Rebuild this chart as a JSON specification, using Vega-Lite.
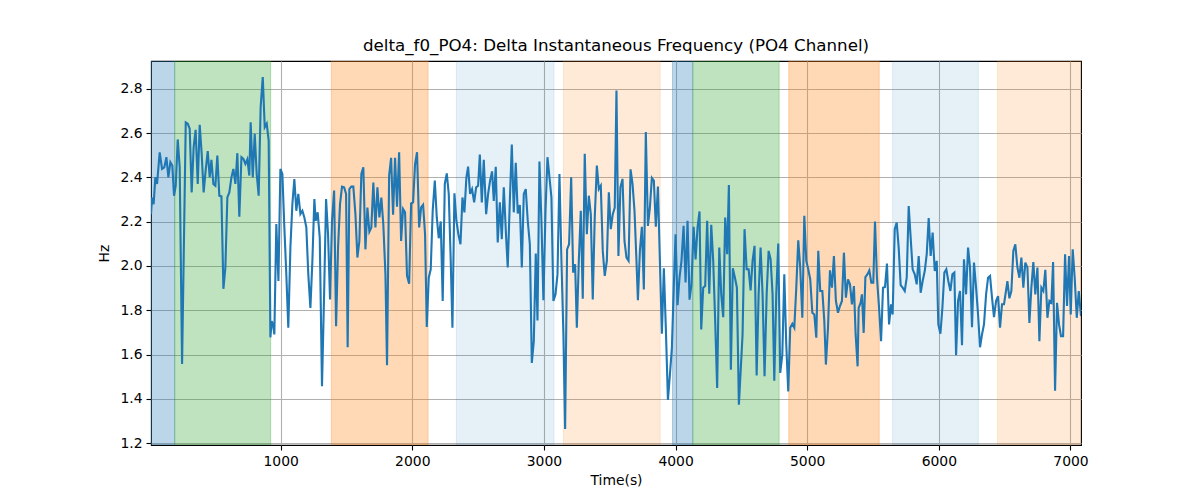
{
  "$schema": "https://vega.github.io/schema/vega-lite/v6.json",
  "width": 930,
  "height": 384,
  "autosize": {"type": "none"},
  "padding": {"left": 151, "top": 61, "right": 119, "bottom": 55},
  "background": "white",
  "title": {
    "text": "delta_f0_PO4: Delta Instantaneous Frequency (PO4 Channel)",
    "fontSize": 16.7,
    "fontWeight": "normal",
    "font": "DejaVu Sans",
    "color": "black",
    "offset": 6
  },
  "config": {
    "font": "DejaVu Sans",
    "view": {"stroke": "black", "strokeWidth": 1.1},
    "axis": {
      "labelFont": "DejaVu Sans",
      "titleFont": "DejaVu Sans",
      "labelFontSize": 13.9,
      "titleFontSize": 13.9,
      "titleFontWeight": "normal",
      "labelColor": "black",
      "titleColor": "black",
      "gridColor": "#b0b0b0",
      "gridWidth": 1.1,
      "tickColor": "black",
      "tickSize": 5,
      "tickWidth": 1.1,
      "labelPadding": 4,
      "domain": false
    }
  },
  "datasets": {
    "spans": [
      {"start": 15, "end": 195, "state": "A"},
      {"start": 195, "end": 924, "state": "B"},
      {"start": 1385, "end": 2120, "state": "C"},
      {"start": 2335, "end": 3077, "state": "D"},
      {"start": 3148, "end": 3883, "state": "E"},
      {"start": 3977, "end": 4131, "state": "A"},
      {"start": 4131, "end": 4787, "state": "B"},
      {"start": 4860, "end": 5547, "state": "C"},
      {"start": 5649, "end": 6300, "state": "D"},
      {"start": 6446, "end": 7080, "state": "E"}
    ],
    "signal": [
      {"t": 15, "v": 2.234}, {"t": 23, "v": 2.309}, {"t": 35, "v": 2.279}, {"t": 48, "v": 2.4}, {"t": 61, "v": 2.37},
      {"t": 81, "v": 2.513}, {"t": 99, "v": 2.438}, {"t": 116, "v": 2.445}, {"t": 132, "v": 2.491}, {"t": 147, "v": 2.4},
      {"t": 162, "v": 2.468}, {"t": 177, "v": 2.453}, {"t": 190, "v": 2.317}, {"t": 203, "v": 2.362}, {"t": 218, "v": 2.571},
      {"t": 233, "v": 2.445}, {"t": 251, "v": 1.558}, {"t": 263, "v": 2.023}, {"t": 279, "v": 2.648}, {"t": 294, "v": 2.642},
      {"t": 309, "v": 2.619}, {"t": 324, "v": 2.332}, {"t": 339, "v": 2.536}, {"t": 354, "v": 2.614}, {"t": 370, "v": 2.37},
      {"t": 385, "v": 2.637}, {"t": 400, "v": 2.506}, {"t": 415, "v": 2.332}, {"t": 430, "v": 2.43}, {"t": 446, "v": 2.518},
      {"t": 461, "v": 2.4}, {"t": 474, "v": 2.479}, {"t": 489, "v": 2.37}, {"t": 504, "v": 2.362}, {"t": 519, "v": 2.498},
      {"t": 534, "v": 2.317}, {"t": 550, "v": 2.314}, {"t": 565, "v": 1.897}, {"t": 580, "v": 1.993}, {"t": 595, "v": 2.309},
      {"t": 610, "v": 2.332}, {"t": 626, "v": 2.4}, {"t": 641, "v": 2.438}, {"t": 656, "v": 2.37}, {"t": 671, "v": 2.509},
      {"t": 686, "v": 2.222}, {"t": 702, "v": 2.491}, {"t": 717, "v": 2.483}, {"t": 732, "v": 2.46}, {"t": 747, "v": 2.481},
      {"t": 762, "v": 2.408}, {"t": 772, "v": 2.648}, {"t": 788, "v": 2.4}, {"t": 803, "v": 2.596}, {"t": 818, "v": 2.415},
      {"t": 833, "v": 2.317}, {"t": 848, "v": 2.717}, {"t": 864, "v": 2.853}, {"t": 879, "v": 2.626}, {"t": 894, "v": 2.642},
      {"t": 909, "v": 2.566}, {"t": 922, "v": 1.678}, {"t": 932, "v": 1.751}, {"t": 942, "v": 1.736}, {"t": 952, "v": 1.691},
      {"t": 967, "v": 2.189}, {"t": 983, "v": 1.932}, {"t": 998, "v": 2.438}, {"t": 1013, "v": 2.415}, {"t": 1028, "v": 2.174},
      {"t": 1043, "v": 1.962}, {"t": 1058, "v": 1.721}, {"t": 1074, "v": 2.083}, {"t": 1089, "v": 2.279}, {"t": 1104, "v": 2.392},
      {"t": 1119, "v": 2.249}, {"t": 1134, "v": 2.325}, {"t": 1150, "v": 2.234}, {"t": 1165, "v": 2.249}, {"t": 1180, "v": 2.219},
      {"t": 1195, "v": 2.174}, {"t": 1210, "v": 1.962}, {"t": 1226, "v": 1.811}, {"t": 1241, "v": 2.023}, {"t": 1256, "v": 2.302},
      {"t": 1266, "v": 2.204}, {"t": 1281, "v": 2.242}, {"t": 1297, "v": 2.128}, {"t": 1314, "v": 1.457}, {"t": 1330, "v": 1.872},
      {"t": 1345, "v": 2.302}, {"t": 1360, "v": 2.143}, {"t": 1375, "v": 1.849}, {"t": 1390, "v": 2.204}, {"t": 1406, "v": 2.34},
      {"t": 1421, "v": 1.728}, {"t": 1436, "v": 2.083}, {"t": 1451, "v": 2.279}, {"t": 1466, "v": 2.358}, {"t": 1482, "v": 2.355},
      {"t": 1497, "v": 2.325}, {"t": 1509, "v": 1.633}, {"t": 1522, "v": 2.347}, {"t": 1537, "v": 2.358}, {"t": 1552, "v": 2.358},
      {"t": 1568, "v": 2.234}, {"t": 1583, "v": 2.038}, {"t": 1598, "v": 2.113}, {"t": 1613, "v": 2.415}, {"t": 1628, "v": 2.445},
      {"t": 1644, "v": 2.075}, {"t": 1659, "v": 2.264}, {"t": 1674, "v": 2.155}, {"t": 1689, "v": 2.174}, {"t": 1704, "v": 2.377},
      {"t": 1720, "v": 2.174}, {"t": 1735, "v": 2.355}, {"t": 1750, "v": 2.219}, {"t": 1765, "v": 2.309}, {"t": 1780, "v": 2.186},
      {"t": 1796, "v": 1.962}, {"t": 1808, "v": 1.552}, {"t": 1824, "v": 2.408}, {"t": 1839, "v": 2.488}, {"t": 1854, "v": 2.231},
      {"t": 1869, "v": 2.488}, {"t": 1884, "v": 2.267}, {"t": 1900, "v": 2.513}, {"t": 1915, "v": 2.113}, {"t": 1930, "v": 2.257},
      {"t": 1945, "v": 2.242}, {"t": 1960, "v": 1.955}, {"t": 1976, "v": 1.92}, {"t": 1991, "v": 2.282}, {"t": 2006, "v": 2.287},
      {"t": 2021, "v": 2.46}, {"t": 2036, "v": 2.513}, {"t": 2052, "v": 2.174}, {"t": 2067, "v": 2.264}, {"t": 2082, "v": 2.276},
      {"t": 2097, "v": 2.143}, {"t": 2110, "v": 1.725}, {"t": 2125, "v": 1.947}, {"t": 2140, "v": 1.985}, {"t": 2155, "v": 2.249},
      {"t": 2171, "v": 2.385}, {"t": 2186, "v": 2.219}, {"t": 2201, "v": 2.125}, {"t": 2216, "v": 2.201}, {"t": 2231, "v": 1.842},
      {"t": 2247, "v": 2.37}, {"t": 2262, "v": 2.418}, {"t": 2277, "v": 2.325}, {"t": 2292, "v": 2.023}, {"t": 2305, "v": 1.721},
      {"t": 2320, "v": 2.328}, {"t": 2335, "v": 2.204}, {"t": 2350, "v": 2.143}, {"t": 2366, "v": 2.098}, {"t": 2381, "v": 2.309},
      {"t": 2396, "v": 2.242}, {"t": 2411, "v": 2.4}, {"t": 2424, "v": 2.448}, {"t": 2439, "v": 2.325}, {"t": 2454, "v": 2.347},
      {"t": 2470, "v": 2.287}, {"t": 2485, "v": 2.355}, {"t": 2500, "v": 2.362}, {"t": 2513, "v": 2.503}, {"t": 2528, "v": 2.287},
      {"t": 2543, "v": 2.479}, {"t": 2561, "v": 2.234}, {"t": 2576, "v": 2.325}, {"t": 2591, "v": 2.385}, {"t": 2606, "v": 2.427},
      {"t": 2619, "v": 2.294}, {"t": 2634, "v": 2.448}, {"t": 2649, "v": 2.106}, {"t": 2665, "v": 2.287}, {"t": 2680, "v": 2.121},
      {"t": 2695, "v": 2.355}, {"t": 2713, "v": 2.128}, {"t": 2725, "v": 1.993}, {"t": 2741, "v": 2.294}, {"t": 2756, "v": 2.548},
      {"t": 2771, "v": 2.242}, {"t": 2786, "v": 2.466}, {"t": 2801, "v": 2.237}, {"t": 2817, "v": 2.275}, {"t": 2832, "v": 1.993},
      {"t": 2847, "v": 2.325}, {"t": 2862, "v": 2.347}, {"t": 2877, "v": 2.204}, {"t": 2893, "v": 2.098}, {"t": 2908, "v": 1.562},
      {"t": 2923, "v": 1.66}, {"t": 2938, "v": 2.056}, {"t": 2951, "v": 1.754}, {"t": 2966, "v": 2.471}, {"t": 2981, "v": 2.204},
      {"t": 2996, "v": 1.845}, {"t": 3012, "v": 2.249}, {"t": 3027, "v": 2.491}, {"t": 3042, "v": 2.4}, {"t": 3057, "v": 2.309},
      {"t": 3072, "v": 1.842}, {"t": 3088, "v": 1.872}, {"t": 3103, "v": 1.962}, {"t": 3118, "v": 2.415}, {"t": 3133, "v": 2.023},
      {"t": 3148, "v": 1.691}, {"t": 3161, "v": 1.264}, {"t": 3176, "v": 2.075}, {"t": 3191, "v": 2.098}, {"t": 3207, "v": 2.4},
      {"t": 3222, "v": 1.97}, {"t": 3237, "v": 2.008}, {"t": 3250, "v": 1.721}, {"t": 3265, "v": 2.023}, {"t": 3280, "v": 2.249},
      {"t": 3295, "v": 1.852}, {"t": 3310, "v": 2.506}, {"t": 3326, "v": 2.143}, {"t": 3341, "v": 2.317}, {"t": 3356, "v": 2.234},
      {"t": 3371, "v": 1.849}, {"t": 3386, "v": 2.219}, {"t": 3402, "v": 2.453}, {"t": 3417, "v": 2.347}, {"t": 3432, "v": 2.362},
      {"t": 3447, "v": 2.068}, {"t": 3462, "v": 1.955}, {"t": 3478, "v": 2.023}, {"t": 3493, "v": 2.332}, {"t": 3508, "v": 2.166},
      {"t": 3523, "v": 2.234}, {"t": 3538, "v": 2.264}, {"t": 3551, "v": 2.792}, {"t": 3566, "v": 2.045}, {"t": 3581, "v": 2.355},
      {"t": 3597, "v": 2.393}, {"t": 3612, "v": 2.113}, {"t": 3627, "v": 2.038}, {"t": 3643, "v": 2.023}, {"t": 3658, "v": 2.436},
      {"t": 3673, "v": 2.37}, {"t": 3688, "v": 2.249}, {"t": 3703, "v": 2.023}, {"t": 3714, "v": 1.845}, {"t": 3729, "v": 2.068},
      {"t": 3744, "v": 2.177}, {"t": 3759, "v": 1.894}, {"t": 3774, "v": 2.604}, {"t": 3790, "v": 2.181}, {"t": 3805, "v": 2.264},
      {"t": 3820, "v": 2.397}, {"t": 3835, "v": 2.385}, {"t": 3850, "v": 2.177}, {"t": 3866, "v": 2.358}, {"t": 3881, "v": 2.023},
      {"t": 3896, "v": 1.694}, {"t": 3911, "v": 1.99}, {"t": 3926, "v": 1.721}, {"t": 3942, "v": 1.396}, {"t": 3957, "v": 1.509},
      {"t": 3972, "v": 1.63}, {"t": 3987, "v": 1.917}, {"t": 4000, "v": 2.143}, {"t": 4015, "v": 1.823}, {"t": 4030, "v": 1.947},
      {"t": 4045, "v": 2.023}, {"t": 4061, "v": 2.181}, {"t": 4076, "v": 1.925}, {"t": 4091, "v": 2.204}, {"t": 4106, "v": 1.848},
      {"t": 4121, "v": 1.917}, {"t": 4137, "v": 2.177}, {"t": 4152, "v": 2.03}, {"t": 4167, "v": 2.174}, {"t": 4182, "v": 2.246},
      {"t": 4195, "v": 1.713}, {"t": 4210, "v": 1.902}, {"t": 4225, "v": 1.91}, {"t": 4240, "v": 2.204}, {"t": 4256, "v": 1.875},
      {"t": 4271, "v": 2.186}, {"t": 4286, "v": 2.023}, {"t": 4301, "v": 1.751}, {"t": 4316, "v": 1.449}, {"t": 4332, "v": 2.083},
      {"t": 4347, "v": 1.872}, {"t": 4362, "v": 1.769}, {"t": 4377, "v": 2.219}, {"t": 4392, "v": 2.053}, {"t": 4405, "v": 2.365},
      {"t": 4420, "v": 1.532}, {"t": 4435, "v": 1.99}, {"t": 4451, "v": 1.947}, {"t": 4466, "v": 1.902}, {"t": 4481, "v": 1.374},
      {"t": 4509, "v": 1.691}, {"t": 4524, "v": 2.166}, {"t": 4540, "v": 1.985}, {"t": 4555, "v": 1.985}, {"t": 4570, "v": 1.89},
      {"t": 4585, "v": 2.023}, {"t": 4600, "v": 2.091}, {"t": 4616, "v": 1.506}, {"t": 4631, "v": 1.872}, {"t": 4646, "v": 2.083},
      {"t": 4661, "v": 1.872}, {"t": 4676, "v": 1.502}, {"t": 4692, "v": 1.872}, {"t": 4707, "v": 2.068}, {"t": 4722, "v": 2.03},
      {"t": 4737, "v": 1.872}, {"t": 4750, "v": 1.482}, {"t": 4765, "v": 1.872}, {"t": 4780, "v": 2.101}, {"t": 4795, "v": 1.517},
      {"t": 4811, "v": 1.6}, {"t": 4826, "v": 1.962}, {"t": 4841, "v": 1.645}, {"t": 4856, "v": 1.434}, {"t": 4871, "v": 1.721},
      {"t": 4887, "v": 1.739}, {"t": 4902, "v": 1.721}, {"t": 4917, "v": 1.902}, {"t": 4932, "v": 2.116}, {"t": 4947, "v": 1.993},
      {"t": 4963, "v": 1.766}, {"t": 4978, "v": 2.226}, {"t": 4993, "v": 2.023}, {"t": 5008, "v": 1.985}, {"t": 5023, "v": 1.94},
      {"t": 5039, "v": 1.789}, {"t": 5054, "v": 1.781}, {"t": 5069, "v": 1.676}, {"t": 5084, "v": 2.068}, {"t": 5099, "v": 1.887},
      {"t": 5115, "v": 1.887}, {"t": 5130, "v": 1.751}, {"t": 5142, "v": 1.555}, {"t": 5158, "v": 1.721}, {"t": 5173, "v": 1.98},
      {"t": 5188, "v": 1.902}, {"t": 5203, "v": 2.045}, {"t": 5218, "v": 1.842}, {"t": 5234, "v": 1.789}, {"t": 5249, "v": 1.819},
      {"t": 5264, "v": 1.842}, {"t": 5279, "v": 2.06}, {"t": 5294, "v": 1.857}, {"t": 5310, "v": 1.94}, {"t": 5325, "v": 1.917},
      {"t": 5340, "v": 1.827}, {"t": 5355, "v": 1.909}, {"t": 5368, "v": 1.691}, {"t": 5383, "v": 1.547}, {"t": 5391, "v": 1.811},
      {"t": 5406, "v": 1.834}, {"t": 5416, "v": 1.872}, {"t": 5429, "v": 1.698}, {"t": 5442, "v": 1.95}, {"t": 5457, "v": 1.962},
      {"t": 5472, "v": 1.98}, {"t": 5487, "v": 1.925}, {"t": 5502, "v": 1.925}, {"t": 5515, "v": 2.201}, {"t": 5530, "v": 1.947},
      {"t": 5546, "v": 1.811}, {"t": 5561, "v": 1.66}, {"t": 5576, "v": 1.902}, {"t": 5591, "v": 1.905}, {"t": 5606, "v": 2.011},
      {"t": 5622, "v": 1.736}, {"t": 5637, "v": 1.827}, {"t": 5649, "v": 1.781}, {"t": 5665, "v": 2.166}, {"t": 5680, "v": 2.196},
      {"t": 5695, "v": 2.083}, {"t": 5710, "v": 1.914}, {"t": 5725, "v": 1.902}, {"t": 5741, "v": 1.887}, {"t": 5756, "v": 1.947},
      {"t": 5771, "v": 2.27}, {"t": 5786, "v": 2.128}, {"t": 5801, "v": 1.985}, {"t": 5817, "v": 1.962}, {"t": 5832, "v": 1.917},
      {"t": 5847, "v": 2.045}, {"t": 5862, "v": 1.879}, {"t": 5877, "v": 1.932}, {"t": 5893, "v": 1.977}, {"t": 5908, "v": 2.053},
      {"t": 5923, "v": 2.216}, {"t": 5938, "v": 2.045}, {"t": 5953, "v": 2.151}, {"t": 5969, "v": 1.977}, {"t": 5984, "v": 2.023},
      {"t": 5996, "v": 1.736}, {"t": 6012, "v": 1.694}, {"t": 6027, "v": 1.811}, {"t": 6042, "v": 1.97}, {"t": 6057, "v": 1.985},
      {"t": 6072, "v": 1.932}, {"t": 6088, "v": 1.887}, {"t": 6103, "v": 1.962}, {"t": 6118, "v": 1.97}, {"t": 6131, "v": 1.597},
      {"t": 6146, "v": 1.842}, {"t": 6161, "v": 1.887}, {"t": 6176, "v": 1.642}, {"t": 6191, "v": 2.03}, {"t": 6207, "v": 1.872},
      {"t": 6222, "v": 2.083}, {"t": 6237, "v": 1.993}, {"t": 6252, "v": 1.724}, {"t": 6267, "v": 2.015}, {"t": 6283, "v": 1.902},
      {"t": 6298, "v": 1.781}, {"t": 6313, "v": 1.633}, {"t": 6328, "v": 1.691}, {"t": 6343, "v": 1.736}, {"t": 6359, "v": 1.872},
      {"t": 6374, "v": 1.947}, {"t": 6389, "v": 1.955}, {"t": 6404, "v": 1.857}, {"t": 6419, "v": 1.769}, {"t": 6435, "v": 1.842},
      {"t": 6450, "v": 1.864}, {"t": 6465, "v": 1.721}, {"t": 6480, "v": 1.827}, {"t": 6495, "v": 1.827}, {"t": 6510, "v": 1.887},
      {"t": 6521, "v": 1.932}, {"t": 6536, "v": 1.854}, {"t": 6551, "v": 1.887}, {"t": 6566, "v": 2.068}, {"t": 6581, "v": 2.098},
      {"t": 6597, "v": 1.993}, {"t": 6612, "v": 1.947}, {"t": 6627, "v": 2.038}, {"t": 6642, "v": 1.902}, {"t": 6657, "v": 2.015},
      {"t": 6673, "v": 1.993}, {"t": 6688, "v": 1.743}, {"t": 6703, "v": 1.902}, {"t": 6718, "v": 2.018}, {"t": 6733, "v": 1.872},
      {"t": 6749, "v": 1.993}, {"t": 6764, "v": 1.66}, {"t": 6779, "v": 1.902}, {"t": 6794, "v": 1.887}, {"t": 6809, "v": 1.983},
      {"t": 6825, "v": 1.766}, {"t": 6840, "v": 1.842}, {"t": 6855, "v": 1.834}, {"t": 6868, "v": 2.018}, {"t": 6883, "v": 1.437},
      {"t": 6898, "v": 1.834}, {"t": 6913, "v": 1.736}, {"t": 6928, "v": 1.683}, {"t": 6944, "v": 1.683}, {"t": 6959, "v": 2.053},
      {"t": 6974, "v": 1.819}, {"t": 6989, "v": 2.045}, {"t": 7002, "v": 1.781}, {"t": 7017, "v": 2.075}, {"t": 7032, "v": 1.947},
      {"t": 7048, "v": 1.766}, {"t": 7063, "v": 1.887}, {"t": 7080, "v": 1.774}
    ]
  },
  "layer": [
    {
      "data": {"name": "spans"},
      "mark": {"type": "rect", "clip": true, "strokeWidth": 1},
      "encoding": {
        "x": {
          "field": "start",
          "type": "quantitative",
          "scale": {"domain": [15, 7080], "nice": false, "zero": false},
          "axis": {"values": [1000, 2000, 3000, 4000, 5000, 6000, 7000], "format": "d", "title": "Time(s)", "titlePadding": 6},
          "title": "Time(s)"
        },
        "x2": {"field": "end"},
        "fill": {
          "field": "state",
          "type": "nominal",
          "scale": {"type": "ordinal", "domain": ["A", "B", "C", "D", "E"], "range": ["#1f77b4", "#2ca02c", "#ff7f0e", "#1f77b4", "#ff7f0e"]},
          "legend": null
        },
        "stroke": {
          "field": "state",
          "type": "nominal",
          "scale": {"type": "ordinal", "domain": ["A", "B", "C", "D", "E"], "range": ["#1f77b4", "#2ca02c", "#ff7f0e", "#1f77b4", "#ff7f0e"]},
          "legend": null
        },
        "fillOpacity": {
          "field": "state",
          "type": "nominal",
          "scale": {"type": "ordinal", "domain": ["A", "B", "C", "D", "E"], "range": [0.3, 0.3, 0.3, 0.11, 0.16]},
          "legend": null
        },
        "strokeOpacity": {
          "field": "state",
          "type": "nominal",
          "scale": {"type": "ordinal", "domain": ["A", "B", "C", "D", "E"], "range": [0.3, 0.3, 0.3, 0.11, 0.16]},
          "legend": null
        }
      }
    },
    {
      "data": {"name": "signal"},
      "mark": {"type": "line", "color": "#1f77b4", "strokeWidth": 2.1, "clip": true},
      "encoding": {
        "x": {"field": "t", "type": "quantitative"},
        "y": {
          "field": "v",
          "type": "quantitative",
          "scale": {"domain": [1.192, 2.925], "nice": false, "zero": false},
          "axis": {"values": [1.2, 1.4, 1.6, 1.8, 2.0, 2.2, 2.4, 2.6, 2.8], "format": ".1f", "title": "Hz", "titlePadding": 8},
          "title": "Hz"
        }
      }
    }
  ]
}
